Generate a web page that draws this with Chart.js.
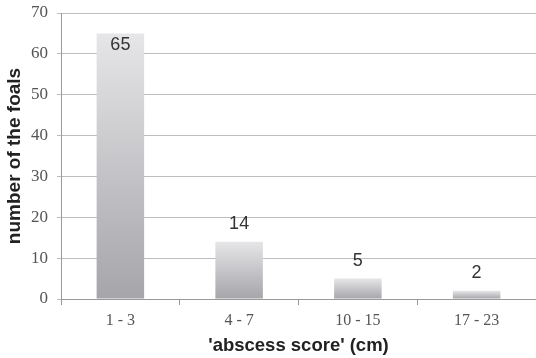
<!DOCTYPE html>
<html>
<head>
<meta charset="utf-8">
<script src="https://cdn.jsdelivr.net/npm/chart.js@4.4.1/dist/chart.umd.min.js"></script>
<style>
  html, body { margin: 0; padding: 0; background: #fff; }
  #wrap { width: 536px; height: 358px; }
</style>
</head>
<body>
<div id="wrap"><canvas id="c" width="536" height="358"></canvas></div>
<script>
// Abscess score groups and number of foals in each
const categories = ['1 - 3', '4 - 7', '10 - 15', '17 - 23'];
const foalCounts = [65, 14, 5, 2];
const yTicks = [0, 10, 20, 30, 40, 50, 60, 70];

// Vertical grey gradient for each bar, light at its top, darker at its base
function barGradient(ctx) {
  const chart = ctx.chart;
  const yScale = chart.scales.y;
  if (!chart.chartArea || !yScale || ctx.type !== 'data') return '#c8c8cc';
  const top = yScale.getPixelForValue(ctx.raw);
  const bottom = yScale.getPixelForValue(0);
  if (!(bottom > top)) return '#c8c8cc';
  const g = chart.ctx.createLinearGradient(0, top, 0, bottom);
  g.addColorStop(0, '#e6e6e8');
  g.addColorStop(1, '#a5a5aa');
  return g;
}

// Value labels: above the bar, or just inside its top when there is no room
const valueLabels = {
  id: 'valueLabels',
  afterDatasetsDraw(chart) {
    const ctx = chart.ctx;
    const meta = chart.getDatasetMeta(0);
    ctx.save();
    ctx.font = '18px "Liberation Sans", Arial, sans-serif';
    ctx.fillStyle = '#333';
    ctx.textAlign = 'center';
    ctx.textBaseline = 'middle';
    meta.data.forEach((bar, i) => {
      const v = chart.data.datasets[0].data[i];
      let y = bar.y - 18;
      if (y < chart.chartArea.top + 8) y = bar.y + 12;
      ctx.fillText(String(v), bar.x, y);
    });
    ctx.restore();
  }
};

new Chart(document.getElementById('c'), {
  type: 'bar',
  data: {
    labels: categories,
    datasets: [{
      data: foalCounts,
      backgroundColor: barGradient,
      borderWidth: 0,
      categoryPercentage: 1.0,
      barPercentage: 0.40
    }]
  },
  options: {
    responsive: false,
    animation: false,
    devicePixelRatio: 1,
    layout: { padding: { top: 13, right: 0, left: 0, bottom: 0 } },
    plugins: {
      legend: { display: false },
      tooltip: { enabled: false }
    },
    scales: {
      x: {
        offset: true,
        grid: {
          display: true,
          drawOnChartArea: false,
          offset: true,
          color: '#999',
          tickLength: 6
        },
        border: { display: true, color: '#999', width: 1 },
        ticks: {
          color: '#555',
          font: { family: '"Liberation Serif", "Times New Roman", serif', size: 16 },
          padding: 6
        },
        title: {
          display: true,
          text: "'abscess score' (cm)",
          color: '#222',
          font: { family: '"Liberation Sans", Arial, sans-serif', size: 18.5, weight: 'bold' },
          padding: { top: 4, bottom: 1 }
        },
        afterFit(scale) { scale.height = 59; }
      },
      y: {
        min: 0,
        max: 70,
        afterBuildTicks(scale) { scale.ticks = yTicks.map(v => ({ value: v })); },
        grid: {
          color: '#bdbdbd',
          lineWidth: 1,
          tickLength: 4
        },
        border: { display: true, color: '#999', width: 1 },
        ticks: {
          color: '#555',
          font: { family: '"Liberation Serif", "Times New Roman", serif', size: 17 },
          padding: 9
        },
        title: {
          display: true,
          text: 'number of the foals',
          color: '#222',
          font: { family: '"Liberation Sans", Arial, sans-serif', size: 19, weight: 'bold' },
          padding: { top: 3, bottom: 2 }
        },
        afterFit(scale) {
          scale.width = 61;
          scale.paddingTop = 0;
          scale.paddingBottom = 0;
        }
      }
    }
  },
  plugins: [valueLabels]
});
</script>
</body>
</html>
